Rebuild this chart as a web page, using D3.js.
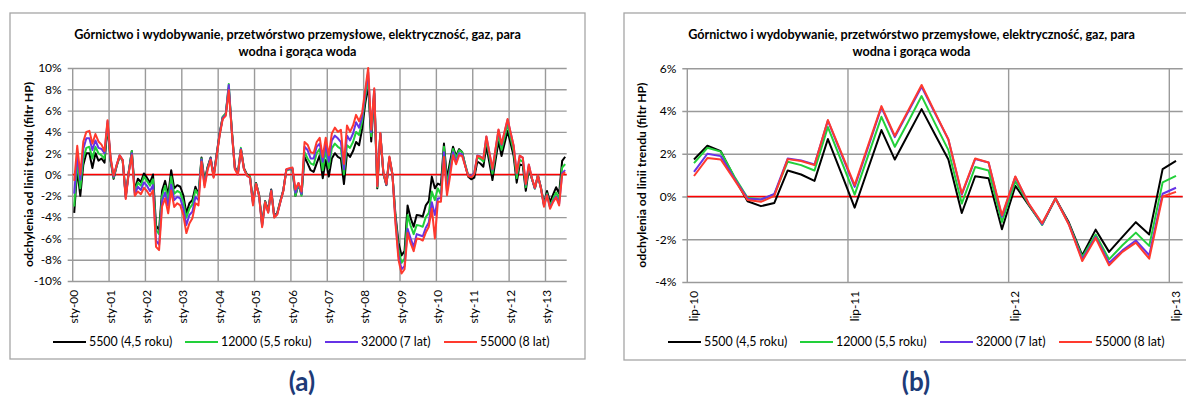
<!DOCTYPE html>
<html>
<head>
<meta charset="utf-8">
<script src="https://cdn.jsdelivr.net/npm/d3@7"></script>
<style>
  body { margin: 0; background: #fff; }
  svg { display: block; font-family: Lato, "Open Sans", sans-serif; }
</style>
</head>
<body>
<svg id="chart" width="1186" height="398"></svg>
<script>
// series names / colours (legend order)
const seriesNames = ["5500 (4,5 roku)", "12000 (5,5 roku)", "32000 (7 lat)", "55000 (8 lat)"];
const seriesColors = ["#000000", "#22d03a", "#6633e6", "#ff3a2e"];
const monthAbbr = ["sty", "lut", "mar", "kwi", "maj", "cze", "lip", "sie", "wrz", "paź", "lis", "gru"];

const titleLines = ["Górnictwo i wydobywanie, przetwórstwo przemysłowe, elektryczność, gaz, para", "wodna i gorąca woda"];
const yTitle = "odchylenia od linii trendu (filtr HP)";

// y tick values (%)
const yTicksA = [-10, -8, -6, -4, -2, 0, 2, 4, 6, 8, 10];
const yTicksB = [-4, -2, 0, 2, 4, 6];

// deviations from HP trend, %, sty-2000 .. cze-2010 (126 months)
const early5500 = [
  -3.6, 0.5, -2.0, 0.9, 2.0, 2.0, 0.6, 2.0, 1.3, 1.5,
  1.1, 4.6, 1.3, -0.4, 0.8, 1.7, 1.3, -2.0, 0.3, 2.2,
  -1.5, -0.4, -0.7, 0.1, -0.3, -0.75, 0.0, -4.8, -5.2, -1.5,
  -0.6, -1.95, 0.4, -1.3, -1.0, -1.15, -1.95, -3.65, -2.7, -2.4,
  -1.15, -1.9, 1.6, -0.6, 0.7, 1.6, -0.1, 1.9, 3.9, 5.4,
  5.7, 8.1, 4.2, 0.7, 0.1, 2.4, 0.6, 0.0, -0.2, -2.6,
  -0.8, -1.9, -4.6, -2.5, -3.4, -1.4, -3.9, -3.6, -2.5, -1.45,
  0.45, 0.5, 0.5, -2.0, -0.9, -1.9, 1.65, 1.05, 0.4, 0.25,
  1.05, 1.8, -0.35, 1.35, -0.2, 1.5, 2.0, 1.65, 1.5, -0.9,
  2.0, 1.65, 2.2, 3.05, 2.75, 4.3, 6.6, 8.4, 3.1, 7.6,
  -1.3, 3.8, 0.1, -1.0, 1.5, 0.0, -3.8, -6.4, -7.6, -7.2,
  -2.9, -4.1, -4.9, -3.8, -3.85, -3.95, -2.9, -2.5, -0.2, -1.3,
  -0.85, -1.0, 2.9, -0.4, 1.2, 2.6
];
const early12000 = [
  -3.0, 1.2, -1.3, 1.5, 2.5, 2.6, 1.5, 2.6, 2.0, 1.8,
  1.5, 4.8, 1.4, -0.3, 0.8, 1.75, 1.3, -2.1, 0.25, 2.2,
  -1.7, -0.75, -1.05, -0.2, -0.6, -1.05, -0.45, -5.2, -5.6, -2.0,
  -1.05, -2.4, -0.2, -1.8, -1.55, -1.7, -2.55, -4.05, -3.2, -2.8,
  -1.45, -1.95, 1.5, -0.8, 0.6, 1.5, -0.2, 1.8, 3.8, 5.4,
  5.7, 8.5, 4.1, 0.6, 0.1, 2.5, 0.55, -0.05, -0.2, -2.7,
  -0.85, -1.95, -4.75, -2.55, -3.5, -1.5, -4.0, -3.65, -2.55, -1.5,
  0.4, 0.5, 0.55, -2.0, -0.85, -2.0, 2.1, 1.5, 1.05, 0.9,
  2.0, 2.4, 0.4, 2.3, 0.6, 2.45, 2.9, 2.6, 2.4, 0.0,
  2.75, 2.5, 3.05, 4.0, 3.7, 5.0, 7.2, 9.0, 3.6, 7.8,
  -1.2, 3.9, 0.15, -0.95, 1.6, 0.0, -4.0, -7.0, -8.3, -7.9,
  -3.8, -4.8, -5.6, -4.75, -4.8, -4.9, -4.0, -3.6, -1.6, -2.4,
  -1.3, -1.9, 2.6, -1.0, 0.7, 2.4
];
const early32000 = [
  -1.8, 1.9, -0.5, 2.4, 3.4, 3.4, 2.3, 3.2, 2.5, 2.4,
  2.0, 5.0, 1.5, -0.2, 0.9, 1.8, 1.35, -2.2, 0.2, 2.0,
  -1.9, -1.15, -1.45, -0.75, -1.05, -1.55, -1.0, -6.2, -6.6, -2.5,
  -1.7, -2.95, -0.95, -2.4, -2.1, -2.25, -3.2, -4.75, -3.8, -3.5,
  -2.1, -2.4, 1.4, -1.0, 0.5, 1.5, -0.2, 1.8, 3.8, 5.3,
  5.6, 8.4, 4.0, 0.6, 0.0, 2.4, 0.5, -0.1, -0.3, -2.8,
  -0.9, -2.0, -4.85, -2.6, -3.55, -1.5, -4.0, -3.7, -2.6, -1.5,
  0.45, 0.55, 0.6, -1.7, -0.8, -1.8, 2.6, 2.3, 1.5, 1.5,
  2.6, 2.9, 1.2, 2.9, 1.2, 3.2, 3.65, 3.4, 3.05, 0.5,
  3.65, 3.2, 3.85, 4.9, 4.4, 5.4, 7.6, 9.6, 4.0, 8.0,
  -1.1, 3.9, 0.2, -0.95, 1.6, 0.0, -4.3, -7.6, -8.9, -8.6,
  -5.1, -6.0, -6.8, -5.6, -5.7, -5.8, -5.0, -4.5, -2.6, -3.8,
  -2.25, -2.2, 2.1, -1.6, 0.25, 2.1
];
const early55000 = [
  -0.6, 2.7, 0.0, 3.1, 4.0, 4.1, 2.9, 3.8, 3.1, 2.8,
  2.2, 5.1, 1.6, -0.1, 0.9, 1.8, 1.35, -2.3, 0.2, 1.8,
  -2.0, -1.6, -1.85, -1.25, -1.55, -2.0, -1.5, -6.8, -7.1, -3.0,
  -2.25, -3.65, -1.5, -3.05, -2.7, -2.9, -3.8, -5.5, -4.6, -4.1,
  -2.7, -2.9, 1.2, -1.2, 0.4, 1.4, -0.3, 1.7, 3.7, 5.2,
  5.5, 7.9, 4.0, 0.5, 0.0, 2.3, 0.5, -0.1, -0.3, -2.9,
  -0.9, -2.0, -4.95, -2.6, -3.6, -1.55, -4.05, -3.75, -2.6, -1.55,
  0.5, 0.6, 0.65, -1.4, -0.8, -1.6, 3.05, 2.8, 2.1, 2.0,
  3.05, 3.45, 1.65, 3.45, 1.8, 3.85, 4.4, 4.0, 4.2, 1.0,
  4.6, 4.0, 4.6, 5.6, 5.0, 5.8, 7.9, 10.0, 4.2, 8.1,
  -1.1, 3.9, 0.2, -0.9, 1.7, 0.0, -4.6, -8.0, -9.3, -8.9,
  -5.5, -6.45, -7.2, -6.0, -6.05, -6.2, -5.45, -4.9, -3.2, -6.0,
  -2.55, -2.55, 1.65, -1.95, -0.2, 1.8
];

// lip-2010 .. lip-2013 (37 months), shown in both charts
const recent5500 = [
  1.73, 2.38, 2.12, 0.9, -0.22, -0.45, -0.3, 1.22, 1.03, 0.73,
  2.69, 1.09, -0.52, 1.3, 3.11, 1.73, 2.91, 4.09, 2.9, 1.73,
  -0.77, 0.95, 0.86, -1.53, 0.5, -0.4, -1.3, -0.09, -1.22, -2.75,
  -1.55, -2.59, -1.89, -1.2, -1.78, 1.28, 1.67
];
const recent12000 = [
  1.56, 2.28, 2.1, 0.95, -0.06, -0.14, 0.1, 1.63, 1.47, 1.22,
  3.25, 1.67, 0.09, 1.9, 3.73, 2.33, 3.5, 4.7, 3.42, 2.17,
  -0.33, 1.38, 1.22, -1.19, 0.72, -0.37, -1.33, -0.09, -1.27, -2.83,
  -1.78, -2.94, -2.28, -1.69, -2.31, 0.66, 0.97
];
const recent32000 = [
  1.15, 2.0, 1.89, 0.85, -0.1, -0.14, 0.12, 1.78, 1.69, 1.5,
  3.55, 2.0, 0.45, 2.3, 4.17, 2.78, 3.96, 5.14, 3.9, 2.67,
  0.09, 1.75, 1.59, -0.95, 0.92, -0.34, -1.3, -0.09, -1.3, -2.94,
  -1.89, -3.11, -2.52, -2.06, -2.75, 0.13, 0.41
];
const recent55000 = [
  0.96, 1.8, 1.73, 0.8, -0.16, -0.25, 0.03, 1.75, 1.66, 1.47,
  3.58, 2.05, 0.53, 2.38, 4.23, 2.84, 4.03, 5.22, 3.94, 2.67,
  0.14, 1.78, 1.59, -0.88, 0.94, -0.33, -1.25, -0.09, -1.32, -3.02,
  -1.94, -3.22, -2.59, -2.16, -2.91, 0.0, 0.22
];

const monthsA = d3.timeMonth.range(new Date(2000, 0, 1), new Date(2013, 7, 1));
const monthsB = monthsA.slice(-recent5500.length);
const seriesA = [
  early5500.concat(recent5500),
  early12000.concat(recent12000),
  early32000.concat(recent32000),
  early55000.concat(recent55000)
];
const seriesB = [recent5500, recent12000, recent32000, recent55000];

const monthLabel = d => monthAbbr[d.getMonth()] + "-" + d3.timeFormat("%y")(d);

const svg = d3.select("#chart");
svg.append("rect").attr("width", 1186).attr("height", 398).attr("fill", "#fff");

function drawChart(cfg) {
  const g = svg.append("g");
  const {left, top, width, height} = cfg.plot;

  g.append("rect")
    .attr("x", cfg.box[0]).attr("y", cfg.box[1])
    .attr("width", cfg.box[2]).attr("height", cfg.box[3])
    .attr("fill", "#fff").attr("stroke", "#a6a6a6").attr("stroke-width", 1.3);

  const x = d3.scaleBand().domain(d3.range(cfg.months.length)).range([left, left + width]);
  const y = d3.scaleLinear().domain(d3.extent(cfg.yTicks)).range([top + height, top]);
  const bw = x.bandwidth();

  // horizontal grid + y labels
  g.append("g")
    .attr("transform", `translate(${left},0)`)
    .call(d3.axisLeft(y).tickValues(cfg.yTicks).tickSize(5).tickPadding(6).tickFormat(d => d + "%"))
    .call(a => a.select(".domain").remove())
    .call(a => a.selectAll(".tick line").attr("x1", -5).attr("x2", width)
      .attr("stroke", "#9a9a9a").attr("stroke-width", 1.4))
    .call(a => a.selectAll(".tick text").attr("font-size", 12).attr("fill", "#000")
      .attr("font-family", "Lato, sans-serif"));

  // vertical grid every 12 months
  const yearIdx = d3.range(0, cfg.months.length, 12);
  g.append("g").selectAll("line").data(yearIdx).join("line")
    .attr("x1", i => x(i)).attr("x2", i => x(i))
    .attr("y1", top).attr("y2", top + height)
    .attr("stroke", "#9a9a9a").attr("stroke-width", 1.4);

  // x labels
  g.append("g").selectAll("text").data(yearIdx).join("text")
    .attr("transform", i => `translate(${x(i) + bw / 2},${top + height + 9}) rotate(-90)`)
    .attr("text-anchor", "end").attr("dy", "0.35em")
    .attr("font-size", 11.8)
    .text(i => monthLabel(cfg.months[i]));

  // zero line
  g.append("line")
    .attr("x1", left).attr("x2", left + width)
    .attr("y1", y(0)).attr("y2", y(0))
    .attr("stroke", "#ff0000").attr("stroke-width", 1.6);

  const line = d3.line().x((d, i) => x(i) + bw / 2).y(d => y(d));
  g.append("g").selectAll("path").data(cfg.series).join("path")
    .attr("fill", "none")
    .attr("stroke", (d, i) => seriesColors[i])
    .attr("stroke-width", 2)
    .attr("stroke-linejoin", "round")
    .attr("d", line);

  // title
  const cx = cfg.box[0] + cfg.box[2] / 2;
  g.append("g").selectAll("text").data(titleLines).join("text")
    .attr("x", cx).attr("y", (d, i) => 38.5 + i * 17)
    .attr("text-anchor", "middle").attr("font-weight", "bold").attr("font-size", 12.6)
    .text(d => d);

  // y axis title
  g.append("text")
    .attr("transform", `translate(${cfg.yTitleX},${top + height / 2}) rotate(-90)`)
    .attr("text-anchor", "middle").attr("dy", "0.35em")
    .attr("font-weight", "bold").attr("font-size", 12.2)
    .text(yTitle);

  // legend
  const legendOffsets = [0, 132, 272, 391];
  const lg = g.append("g").selectAll("g").data(seriesNames).join("g")
    .attr("transform", (d, i) => `translate(${cfg.legendX + legendOffsets[i]},342)`);
  lg.append("line").attr("x1", 0).attr("x2", 33)
    .attr("stroke", (d, i) => seriesColors[i]).attr("stroke-width", 2);
  lg.append("text").attr("x", 36).attr("dy", "0.35em").attr("font-size", 12.4).text(d => d);

  // panel letter
  svg.append("text")
    .attr("x", cfg.letterX).attr("y", 391)
    .attr("text-anchor", "middle").attr("font-weight", "bold").attr("font-size", 26)
    .attr("fill", "#1d3b78")
    .text(cfg.letter);
}

drawChart({
  box: [10, 13, 575, 346],
  plot: {left: 72.7, top: 68, width: 494, height: 213},
  months: monthsA, series: seriesA, yTicks: yTicksA,
  yTitleX: 29, legendX: 53, letter: "(a)", letterX: 302
});
drawChart({
  box: [624, 13, 575, 347],
  plot: {left: 687.3, top: 68.3, width: 495.4, height: 213.7},
  months: monthsB, series: seriesB, yTicks: yTicksB,
  yTitleX: 642, legendX: 668, letter: "(b)", letterX: 916
});
</script>
</body>
</html>
